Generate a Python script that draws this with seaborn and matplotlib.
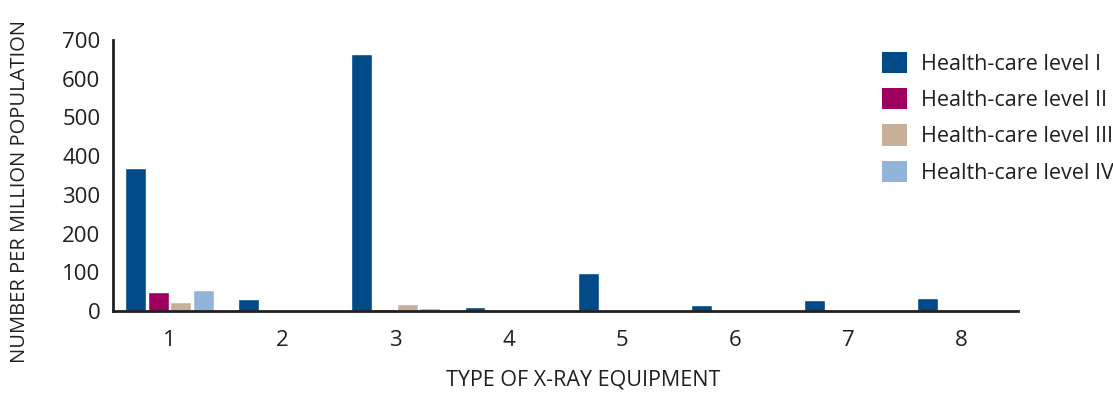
import numpy as np
import pandas as pd
import matplotlib
matplotlib.use("Agg")
import matplotlib.pyplot as plt
import seaborn as sns
from matplotlib.patches import Patch
from matplotlib.ticker import FixedLocator

# Equipment types on the x axis
equipment_types = ["1", "2", "3", "4", "5", "6", "7", "8"]

# Number of units per million population, by health-care level
level_1 = [370, 30, 665, 10, 97, 15, 28, 33]
level_2 = [48, 0, 4, 0, 0, 0, 0, 1]
level_3 = [22, 0, 18, 0, 1, 0, 0, 0]
level_4 = [54, 1, 7, 0, 1, 0, 1, 1]

levels = ["Health-care level I", "Health-care level II",
          "Health-care level III", "Health-care level IV"]
colors = ["#004b87", "#9e005d", "#c6b097", "#93b4d9"]

y_ticks = [0, 100, 200, 300, 400, 500, 600, 700]

df = pd.DataFrame({
    "type": equipment_types * 4,
    "value": level_1 + level_2 + level_3 + level_4,
    "level": np.repeat(levels, len(equipment_types)),
})

sns.set_style("white")
plt.rcParams["font.family"] = ["Open Sans", "DejaVu Sans"]
text_color = "#231f20"

fig = plt.figure(figsize=(11.13, 3.94), dpi=100)
ax = fig.add_axes([0.1015, 0.2107, 0.8132, 0.6878])

sns.barplot(data=df, x="type", y="value", hue="level", palette=colors,
            hue_order=levels, order=equipment_types, width=0.8, gap=0.08,
            saturation=1, legend=False, ax=ax)

ax.set_xlim(-0.5, len(equipment_types) - 0.5)
ax.set_ylim(0, 700)
ax.set_yticks(y_ticks)
ax.set_yticklabels([str(t) for t in y_ticks], fontsize=16, color=text_color)
ax.set_xticks(range(len(equipment_types)))
ax.set_xticklabels(equipment_types, fontsize=16, color=text_color)
ax.xaxis.set_minor_locator(FixedLocator(np.arange(-0.5, len(equipment_types), 1.0)))
ax.tick_params(axis="x", which="major", length=0, pad=14)
ax.tick_params(axis="x", which="minor", length=5, width=2, color=text_color, direction="inout")
ax.tick_params(axis="y", length=6, width=2, color=text_color, direction="inout", pad=6)

for side in ["top", "right"]:
    ax.spines[side].set_visible(False)
for side in ["left", "bottom"]:
    ax.spines[side].set_color(text_color)
    ax.spines[side].set_linewidth(2)

ax.set_xlabel("TYPE OF X-RAY EQUIPMENT", fontsize=15.5, color=text_color)
ax.xaxis.set_label_coords(0.519, -0.215)
ax.set_ylabel("NUMBER PER MILLION POPULATION", fontsize=14.5, color=text_color)
ax.yaxis.set_label_coords(-0.092, 0.44)

handles = [Patch(facecolor=c, edgecolor="none") for c in colors]
fig.legend(handles, levels, loc="upper left", bbox_to_anchor=(0.775, 0.918),
           frameon=False, fontsize=15.5, labelcolor=text_color,
           handlelength=1.15, handleheight=1.15, handletextpad=0.65,
           labelspacing=0.62)

fig.savefig("out.png", dpi=100)
